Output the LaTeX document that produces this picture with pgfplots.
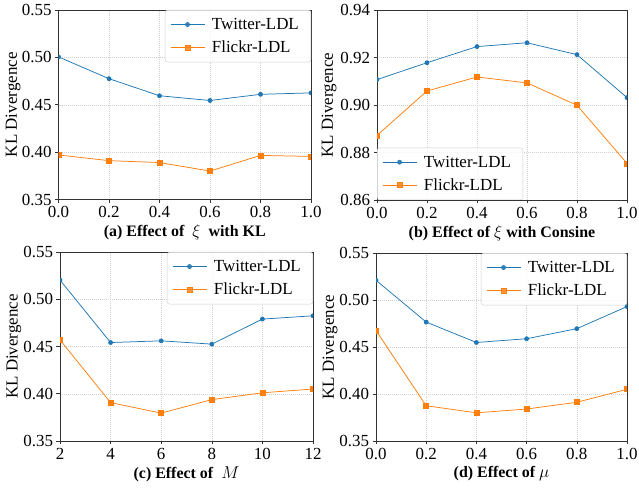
\documentclass[border=0pt]{standalone}
\usepackage{fontspec}
\setmainfont{Liberation Serif}
\usepackage{pgfplots}
\pgfplotsset{compat=1.18}
\definecolor{tblue}{HTML}{1F77B4}
\definecolor{torange}{HTML}{FF7F0E}
\pgfplotsset{
 panel/.style={
  scale only axis,
  axis line style={black!80, line width=0.6pt},
  grid=major,
  major grid style={black!18, line width=0.4pt, dash pattern=on 1pt off 1pt},
  tick align=outside, tick pos=left, major tick length=3.5bp,
  tick style={black!80, line width=0.6pt},
  ticklabel style={font=\fontsize{17}{19}\selectfont},
  label style={font=\fontsize{17}{19}\selectfont},
  xlabel style={font=\fontsize{16}{18}\selectfont\bfseries, at={(axis description cs:0.5,0)}, anchor=center, yshift=-33bp},
  ylabel={KL Divergence},
  clip marker paths=true,
  legend cell align=left,
  legend image code/.code={\draw[mark repeat=2,mark phase=2] plot coordinates {(0bp,0bp)(17bp,0bp)(34bp,0bp)};},
  legend style={draw=black!20, rounded corners=2.5pt, fill=white, fill opacity=0.8, text opacity=1,
    font=\fontsize{17}{19}\selectfont, inner xsep=5bp, inner ysep=5bp, row sep=4bp,
    nodes={inner ysep=3bp, inner xsep=7bp}},
 },
 tw/.style={tblue, line width=0.75pt, mark=*, mark size=2bp, mark options={solid, fill=tblue, draw=tblue}},
 fl/.style={torange, line width=0.75pt, mark=square*, mark size=2.5bp, mark options={solid, fill=torange, draw=torange}},
 xunit/.style={xmin=0, xmax=1, xtick={0,0.2,0.4,0.6,0.8,1}, xticklabels={0.0,0.2,0.4,0.6,0.8,1.0}},
 ylow/.style={ymin=0.35, ymax=0.55, ytick={0.35,0.40,0.45,0.50,0.55}, yticklabels={0.35,0.40,0.45,0.50,0.55}},
}
\begin{document}
\begin{tikzpicture}
\useasboundingbox (0,0) rectangle (639bp,489bp);
% (a)
\begin{axis}[panel, xunit, ylow, at={(58.5bp,289.5bp)}, anchor=south west, width=252.5bp, height=189.5bp,
  ylabel style={at={(axis description cs:-0.180,0.5)}, anchor=center},
  xlabel={(a) Effect of \ $\xi$ \ with KL},
  legend style={at={(1,1)}, anchor=north east}]
\addplot[tw] coordinates {(0,0.5005)(0.2,0.4775)(0.4,0.4595)(0.6,0.4545)(0.8,0.461)(1.0,0.4625)};
\addplot[fl] coordinates {(0,0.397)(0.2,0.391)(0.4,0.389)(0.6,0.380)(0.8,0.3965)(1.0,0.3955)};
\legend{Twitter-LDL, Flickr-LDL}
\end{axis}
% (b)
\begin{axis}[panel, xunit, at={(377bp,289bp)}, anchor=south west, width=250bp, height=190bp,
  ymin=0.86, ymax=0.94, ytick={0.86,0.88,0.90,0.92,0.94}, yticklabels={0.86,0.88,0.90,0.92,0.94},
  ylabel style={at={(axis description cs:-0.192,0.5)}, anchor=center},
  xlabel={(b) Effect of $\xi$ with Consine},
  legend style={at={(0,0)}, anchor=south west}]
\addplot[tw] coordinates {(0,0.9107)(0.2,0.9178)(0.4,0.9246)(0.6,0.9262)(0.8,0.9212)(1.0,0.9031)};
\addplot[fl] coordinates {(0,0.8872)(0.2,0.9059)(0.4,0.9118)(0.6,0.9093)(0.8,0.8999)(1.0,0.8754)};
\legend{Twitter-LDL, Flickr-LDL}
\end{axis}
% (c)
\begin{axis}[panel, ylow, at={(60bp,48bp)}, anchor=south west, width=253bp, height=189bp,
  xmin=2, xmax=12, xtick={2,4,6,8,10,12}, xticklabels={2,4,6,8,10,12},
  ylabel style={at={(axis description cs:-0.182,0.5)}, anchor=center},
  xlabel={(c) Effect of \ $M$},
  legend style={at={(1,1)}, anchor=north east}]
\addplot[tw] coordinates {(2,0.5203)(4,0.4542)(6,0.4560)(8,0.4525)(10,0.4790)(12,0.4825)};
\addplot[fl] coordinates {(2,0.4570)(4,0.3906)(6,0.3795)(8,0.3938)(10,0.4010)(12,0.4050)};
\legend{Twitter-LDL, Flickr-LDL}
\end{axis}
% (d)
\begin{axis}[panel, xunit, ylow, at={(376bp,48bp)}, anchor=south west, width=251bp, height=188bp,
  ylabel style={at={(axis description cs:-0.183,0.5)}, anchor=center},
  xlabel={(d) Effect of $\mu$},
  legend style={at={(1,1)}, anchor=north east}]
\addplot[tw] coordinates {(0,0.5210)(0.2,0.4765)(0.4,0.4548)(0.6,0.4588)(0.8,0.4695)(1.0,0.4930)};
\addplot[fl] coordinates {(0,0.4675)(0.2,0.3875)(0.4,0.3800)(0.6,0.3840)(0.8,0.3912)(1.0,0.4050)};
\legend{Twitter-LDL, Flickr-LDL}
\end{axis}
\end{tikzpicture}
\end{document}
